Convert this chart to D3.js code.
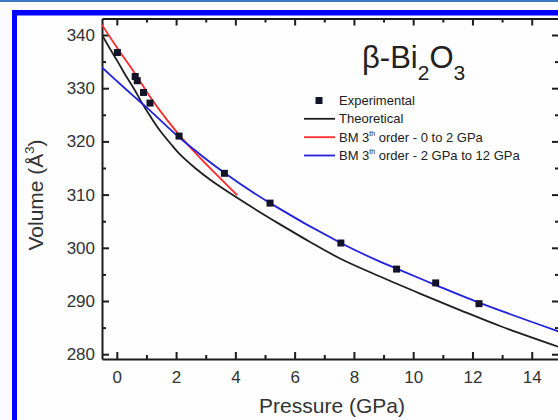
<!DOCTYPE html>
<html>
<head>
<meta charset="utf-8">
<script src="https://cdn.jsdelivr.net/npm/d3@7"></script>
<style>
  body { margin: 0; background: #ffffff; }
  svg { display: block; font-family: "Liberation Sans", Arial, sans-serif; }
  .axis path, .axis line { stroke: #1c1c1c; stroke-width: 2; }
  .minor path { display: none; }
  .minor line { stroke: #1c1c1c; stroke-width: 2; }
  .axis text { font-size: 17px; fill: #333; }
</style>
</head>
<body>
<script>
//experimental points (pressure in GPa, volume in A^3)
var expP = [0.02, 0.62, 0.69, 0.90, 1.12, 2.10, 3.63, 5.17, 7.56, 9.44, 10.76, 12.22];
var expV = [336.7, 332.2, 331.4, 329.2, 327.2, 321.0, 314.0, 308.4, 300.9, 296.0, 293.4, 289.5];

//theoretical curve
var theoP = [-0.5, -0.23, 0.04, 0.31, 0.58, 0.85, 1.12, 1.46, 1.87, 2.14, 2.64, 3.15, 4.06, 4.83, 5.51, 6.52, 7.53, 8.88, 10.23, 11.58, 12.93, 14.9];
var theoV = [340.0, 337.4, 334.9, 332.3, 329.9, 327.2, 324.8, 322.0, 319.2, 317.5, 315.0, 312.8, 309.4, 306.7, 304.4, 301.1, 298.0, 294.6, 291.4, 288.3, 285.3, 281.4];

//BM 3rd order fit 0 to 2 GPa (red)
var bmLowP = [-0.5, 0.01, 0.62, 1.12, 1.70, 2.14, 2.81, 4.06];
var bmLowV = [341.9, 337.6, 332.7, 328.4, 324.0, 321.0, 316.9, 309.9];

//BM 3rd order fit 2 to 12 GPa (blue)
var bmHighP = [-0.5, -0.07, 0.49, 1.06, 1.62, 2.18, 3.65, 5.17, 7.56, 8.88, 9.44, 10.76, 12.22, 14.9];
var bmHighV = [333.9, 331.7, 328.9, 326.1, 323.2, 320.4, 314.0, 308.4, 300.9, 297.4, 296.1, 293.0, 289.7, 284.3];

//tick values
var xMajor = [0, 2, 4, 6, 8, 10, 12, 14];
var xMinor = [1, 3, 5, 7, 9, 11, 13];
var yMajor = [280, 290, 300, 310, 320, 330, 340];
var yMinor = [285, 295, 305, 315, 325, 335];

var width = 558, height = 420;
//plot box edges (right edge sits just past the picture)
var boxLeft = 102, boxRight = 559, boxTop = 18.5, boxBottom = 359;

var svg = d3.select("body").append("svg")
  .attr("width", width)
  .attr("height", height);

//page frame: thin line on top, thick blue border
svg.append("rect").attr("x", 0).attr("y", 0).attr("width", width).attr("height", height).attr("fill", "#fbfbfb");
svg.append("rect").attr("x", 0).attr("y", 0).attr("width", width).attr("height", 2).attr("fill", "#3c78c0");
svg.append("rect").attr("x", 12).attr("y", 10).attr("width", width - 12).attr("height", height - 10).attr("fill", "#0000ff");
svg.append("rect").attr("x", 17).attr("y", 15.5).attr("width", width - 17).attr("height", height - 15.5).attr("fill", "#fefefe");

var x = d3.scaleLinear().domain([-0.5, 14.92]).range([boxLeft, boxRight]);
var y = d3.scaleLinear().domain([279.1, 343.1]).range([boxBottom, boxTop]);

//draws one axis, ticks point into the box
function drawAxis(axis, tx, ty, cls){
  svg.append("g")
    .attr("class", "axis " + cls)
    .attr("transform", "translate(" + tx + "," + ty + ")")
    .call(axis);
}

drawAxis(d3.axisBottom(x).tickValues(xMajor).tickSizeInner(-7).tickSizeOuter(0).tickPadding(11.5), 0, boxBottom, "");
drawAxis(d3.axisBottom(x).tickValues(xMinor).tickSizeInner(-4).tickSizeOuter(0).tickFormat(""), 0, boxBottom, "minor");
drawAxis(d3.axisTop(x).tickValues(xMajor).tickSizeInner(-7).tickSizeOuter(0).tickFormat(""), 0, boxTop, "");
drawAxis(d3.axisTop(x).tickValues(xMinor).tickSizeInner(-4).tickSizeOuter(0).tickFormat(""), 0, boxTop, "minor");
drawAxis(d3.axisLeft(y).tickValues(yMajor).tickSizeInner(-7).tickSizeOuter(0).tickPadding(7), boxLeft, 0, "");
drawAxis(d3.axisLeft(y).tickValues(yMinor).tickSizeInner(-4).tickSizeOuter(0).tickFormat(""), boxLeft, 0, "minor");
drawAxis(d3.axisRight(y).tickValues(yMajor).tickSizeInner(-7).tickSizeOuter(0).tickFormat(""), boxRight, 0, "");
drawAxis(d3.axisRight(y).tickValues(yMinor).tickSizeInner(-4).tickSizeOuter(0).tickFormat(""), boxRight, 0, "minor");

//clip the curves to the plot box
svg.append("clipPath").attr("id", "plot")
  .append("rect").attr("x", boxLeft).attr("y", boxTop).attr("width", boxRight - boxLeft).attr("height", boxBottom - boxTop);

var line = d3.line()
  .x(function(d){ return x(d[0]); })
  .y(function(d){ return y(d[1]); })
  .curve(d3.curveCatmullRom);

var curves = [
  {p: theoP, v: theoV, color: "#202020"},
  {p: bmLowP, v: bmLowV, color: "#ff2a2a"},
  {p: bmHighP, v: bmHighV, color: "#2222dd"}
];

var plot = svg.append("g").attr("clip-path", "url(#plot)");
curves.forEach(function(c){
  plot.append("path")
    .datum(d3.zip(c.p, c.v))
    .attr("d", line)
    .attr("fill", "none")
    .attr("stroke", c.color)
    .attr("stroke-width", 1.8);
});

//experimental squares
plot.selectAll(".pt")
  .data(d3.zip(expP, expV))
  .enter()
  .append("rect")
  .attr("class", "pt")
  .attr("x", function(d){ return x(d[0]) - 3.5; })
  .attr("y", function(d){ return y(d[1]) - 3.5; })
  .attr("width", 7)
  .attr("height", 7)
  .attr("fill", "#141428");

//axis titles
svg.append("text")
  .attr("x", 332).attr("y", 413)
  .attr("text-anchor", "middle")
  .attr("font-size", 21).attr("fill", "#333")
  .text("Pressure (GPa)");

var yt = svg.append("text")
  .attr("transform", "translate(43,195) rotate(-90)")
  .attr("text-anchor", "middle")
  .attr("font-size", 21).attr("fill", "#333");
yt.append("tspan").text("Volume (Å");
yt.append("tspan").attr("font-size", 13).attr("dy", -9).text("3");
yt.append("tspan").attr("dy", 9).text(")");

//chart title
var title = svg.append("text")
  .attr("x", 362).attr("y", 68)
  .attr("font-size", 31).attr("fill", "#222");
title.append("tspan").text("β-Bi");
title.append("tspan").attr("font-size", 21).attr("dy", 12).text("2");
title.append("tspan").attr("dy", -12).text("O");
title.append("tspan").attr("font-size", 21).attr("dy", 12).text("3");

//legend
var legendY = [100.5, 118.8, 137.2, 155.5];
var leg = svg.append("g").attr("font-size", 13).attr("fill", "#222");

leg.append("rect")
  .attr("x", 315.5).attr("y", legendY[0] - 3.5)
  .attr("width", 7).attr("height", 7)
  .attr("fill", "#141428");
leg.append("text").attr("x", 339).attr("y", legendY[0] + 4.5).text("Experimental");

var legendLines = [
  {color: "#202020", label: "Theoretical"},
  {color: "#ff2a2a", label: " order - 0 to 2 GPa"},
  {color: "#2222dd", label: " order - 2 GPa to 12 GPa"}
];
legendLines.forEach(function(d, i){
  var ly = legendY[i + 1];
  leg.append("line")
    .attr("x1", 304).attr("x2", 335)
    .attr("y1", ly).attr("y2", ly)
    .attr("stroke", d.color).attr("stroke-width", 1.8);
  var t = leg.append("text").attr("x", 339).attr("y", ly + 4.5);
  if (i == 0) {
    t.text(d.label);
  } else {
    t.append("tspan").text("BM 3");
    t.append("tspan").attr("font-size", 7).attr("dy", -6).text("th");
    t.append("tspan").attr("dy", 6).text(d.label);
  }
});
</script>
</body>
</html>
